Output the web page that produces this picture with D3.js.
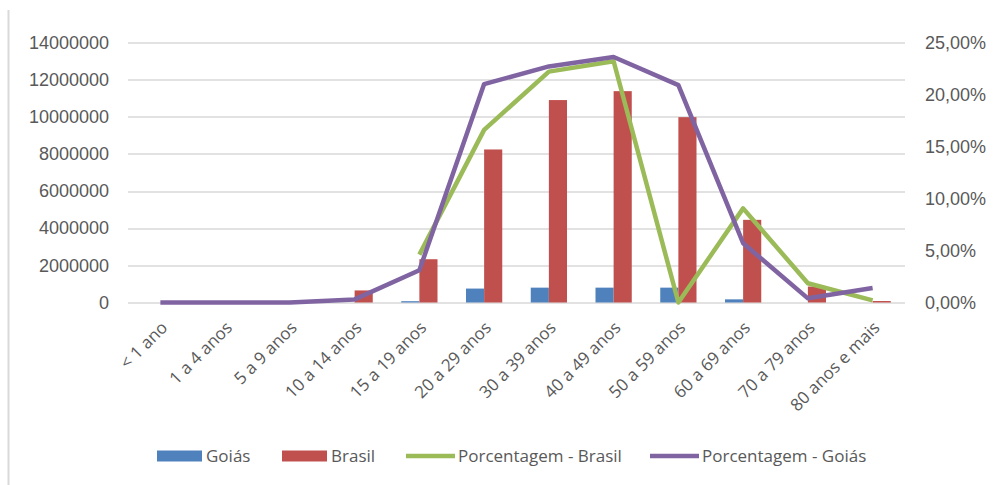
<!DOCTYPE html>
<html>
<head>
<meta charset="utf-8">
<script src="https://cdn.jsdelivr.net/npm/d3@7"></script>
<style>
  body { margin: 0; background: #fff; }
  svg { display: block; font-family: "Open Sans", "Liberation Sans", sans-serif; }
</style>
</head>
<body>
<div id="chart"></div>
<script>
// faixas etarias
const categories = ["< 1 ano", "1 a 4 anos", "5 a 9 anos", "10 a 14 anos", "15 a 19 anos",
    "20 a 29 anos", "30 a 39 anos", "40 a 49 anos", "50 a 59 anos", "60 a 69 anos",
    "70 a 79 anos", "80 anos e mais"];

const goias = [0, 0, 0, 0, 70000, 750000, 800000, 800000, 800000, 170000, 0, 0];
const brasil = [0, 0, 0, 650000, 2330000, 8240000, 10900000, 11380000, 9980000, 4450000, 860000, 80000];
const pctBrasil = [null, null, null, null, 4.6, 16.6, 22.2, 23.2, 0.0, 9.05, 1.85, 0.2];
const pctGoias = [0, 0, 0, 0.3, 3.1, 21.0, 22.7, 23.6, 20.9, 5.7, 0.4, 1.4];

const leftTicks = [0, 2000000, 4000000, 6000000, 8000000, 10000000, 12000000, 14000000];
const rightTicks = [0, 5, 10, 15, 20, 25];

const width = 993, height = 485;
const margin = { top: 42.5, right: 88, bottom: 182.5, left: 128 };
const plotW = width - margin.left - margin.right;
const plotH = height - margin.top - margin.bottom;

const svg = d3.select("#chart").append("svg")
    .attr("width", width)
    .attr("height", height);

// borda esquerda
svg.append("line")
    .attr("x1", 8.5).attr("x2", 8.5)
    .attr("y1", 10).attr("y2", height)
    .attr("stroke", "#d9d9d9")
    .attr("stroke-width", 2);

const g = svg.append("g")
    .attr("transform", `translate(${margin.left},${margin.top})`);

const x = d3.scaleBand()
    .domain(categories)
    .range([0, plotW])
    .paddingInner(0.44)
    .paddingOuter(0.22);

const xCenter = c => x(c) + x.bandwidth() / 2;

const xSub = d3.scaleBand()
    .domain(["goias", "brasil"])
    .range([0, x.bandwidth()]);

const yLeft = d3.scaleLinear().domain([0, 14000000]).range([plotH, 0]);
const yRight = d3.scaleLinear().domain([0, 25]).range([plotH, 0]);

// grid
g.append("g")
    .selectAll("line")
    .data(leftTicks)
    .join("line")
    .attr("x1", 0).attr("x2", plotW)
    .attr("y1", d => Math.round(yLeft(d)) + 0.5)
    .attr("y2", d => Math.round(yLeft(d)) + 0.5)
    .attr("stroke", "#d9d9d9")
    .attr("stroke-width", 1.5);

// eixo esquerdo
const axL = g.append("g")
    .call(d3.axisLeft(yLeft).tickValues(leftTicks).tickFormat(d3.format("d")).tickSize(0).tickPadding(19));
axL.select(".domain").remove();
axL.selectAll("text").attr("fill", "#595959").style("font-size", "18px");

// eixo direito
const axR = g.append("g")
    .attr("transform", `translate(${plotW},0)`)
    .call(d3.axisRight(yRight).tickValues(rightTicks)
        .tickFormat(d => d.toFixed(2).replace(".", ",") + "%").tickSize(0).tickPadding(20));
axR.select(".domain").remove();
axR.selectAll("text").attr("fill", "#595959").style("font-size", "18px");

// barras
const groups = g.append("g")
    .selectAll("g")
    .data(categories)
    .join("g")
    .attr("transform", d => `translate(${x(d)},0)`);

groups.append("rect")
    .attr("x", xSub("goias"))
    .attr("width", xSub.bandwidth())
    .attr("y", (d, i) => yLeft(goias[i]))
    .attr("height", (d, i) => plotH - yLeft(goias[i]))
    .attr("fill", "#4f81bd");

groups.append("rect")
    .attr("x", xSub("brasil"))
    .attr("width", xSub.bandwidth())
    .attr("y", (d, i) => yLeft(brasil[i]))
    .attr("height", (d, i) => plotH - yLeft(brasil[i]))
    .attr("fill", "#c0504d");

// linhas
const line = d3.line()
    .defined(d => d[1] !== null)
    .x(d => xCenter(d[0]))
    .y(d => yRight(d[1]));

g.append("path")
    .datum(categories.map((c, i) => [c, pctBrasil[i]]))
    .attr("d", line)
    .attr("fill", "none")
    .attr("stroke", "#9bbb59")
    .attr("stroke-width", 4.5)
    .attr("stroke-linejoin", "round");

g.append("path")
    .datum(categories.map((c, i) => [c, pctGoias[i]]))
    .attr("d", line)
    .attr("fill", "none")
    .attr("stroke", "#8064a2")
    .attr("stroke-width", 4.5)
    .attr("stroke-linejoin", "round");

// rotulos do eixo x
g.append("g")
    .selectAll("text")
    .data(categories)
    .join("text")
    .attr("transform", d => `translate(${xCenter(d) + 4},${plotH + 22}) rotate(-45)`)
    .attr("text-anchor", "end")
    .attr("dy", "0.35em")
    .attr("fill", "#595959")
    .style("font-size", "17px")
    .text(d => d);

// legenda
const legendItems = [
    { name: "Goiás", color: "#4f81bd", type: "rect", x: 157 },
    { name: "Brasil", color: "#c0504d", type: "rect", x: 282 },
    { name: "Porcentagem - Brasil", color: "#9bbb59", type: "line", x: 406 },
    { name: "Porcentagem - Goiás", color: "#8064a2", type: "line", x: 650 }
];

const legend = svg.append("g").attr("transform", "translate(0,456)");
const li = legend.selectAll("g")
    .data(legendItems)
    .join("g")
    .attr("transform", d => `translate(${d.x},0)`);

li.filter(d => d.type === "rect").append("rect")
    .attr("x", 0).attr("y", -5.5)
    .attr("width", 45).attr("height", 11)
    .attr("fill", d => d.color);

li.filter(d => d.type === "line").append("line")
    .attr("x1", 0).attr("x2", 49)
    .attr("y1", 0).attr("y2", 0)
    .attr("stroke", d => d.color)
    .attr("stroke-width", 4.5);

li.append("text")
    .attr("x", d => d.type === "rect" ? 49 : 52)
    .attr("dy", "0.35em")
    .attr("fill", "#595959")
    .style("font-size", "17px")
    .text(d => d.name);
</script>
</body>
</html>
